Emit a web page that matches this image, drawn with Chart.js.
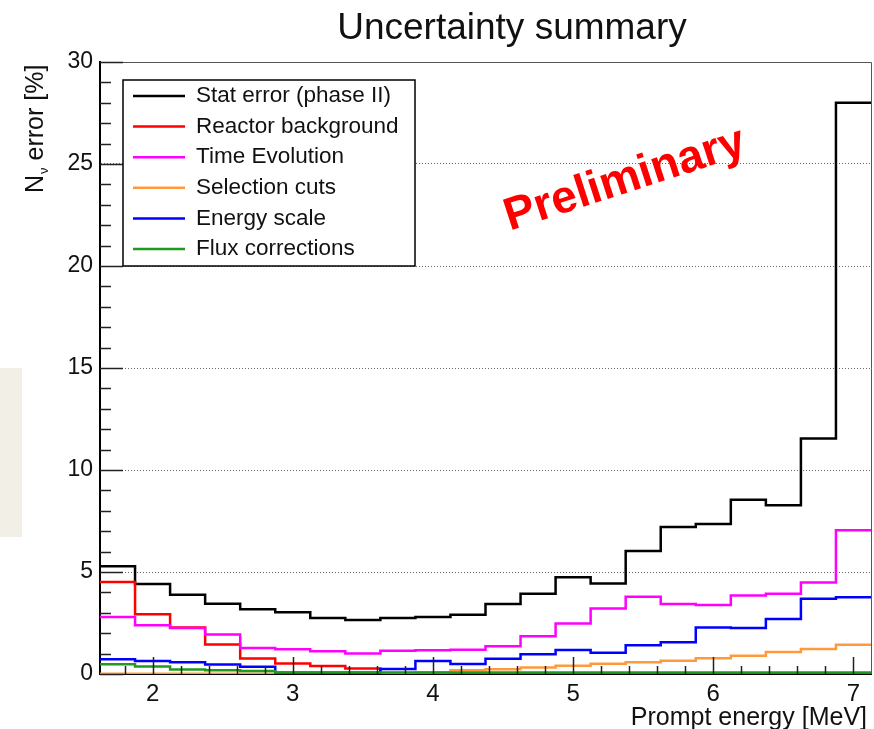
<!DOCTYPE html>
<html lang="en">
<head>
<meta charset="utf-8">
<title>Uncertainty summary</title>
<script src="https://cdn.jsdelivr.net/npm/chart.js"></script>
<style>
  body { margin: 0; background: #fff; }
  #wrap { position: relative; width: 874px; height: 729px; }
  #tab { position: absolute; left: 0; top: 368px; width: 22px; height: 169px; background: #f2efe6; }
  #myChart { position: absolute; left: 0; top: 0; }
</style>
</head>
<body>
<div id="wrap">
  <div id="tab"></div>
  <canvas id="myChart" width="874" height="729"></canvas>
</div>
<script>
    // prompt energy bins (MeV), lower edges + last upper edge
    const binLow = [1.625, 1.875, 2.125, 2.375, 2.625, 2.875, 3.125, 3.375, 3.625, 3.875, 4.125,
                    4.375, 4.625, 4.875, 5.125, 5.375, 5.625, 5.875, 6.125, 6.375, 6.625, 6.875];
    const binHigh = 7.125;

    // relative errors in %
    const statErr     = [5.28, 4.41, 3.88, 3.44, 3.18, 3.03, 2.74, 2.65, 2.74, 2.79, 2.90,
                         3.43, 3.93, 4.74, 4.44, 6.03, 7.20, 7.35, 8.54, 8.27, 11.54, 28.0];
    const reactorBg   = [4.51, 2.93, 2.28, 1.45, 0.76, 0.52, 0.39, 0.27, 0.03, 0.02, 0.02,
                         0.02, 0.02, 0.02, 0.02, 0.02, 0.02, 0.02, 0.02, 0.02, 0.02, 0.02];
    const timeEvo     = [2.80, 2.39, 2.26, 1.94, 1.28, 1.21, 1.11, 1.01, 1.14, 1.17, 1.19,
                         1.36, 1.85, 2.48, 3.21, 3.79, 3.43, 3.38, 3.85, 3.93, 4.49, 7.05];
    const selCuts     = [0.01, 0.01, 0.01, 0.01, 0.01, 0.01, 0.02, 0.03, 0.05, 0.08, 0.18,
                         0.23, 0.32, 0.41, 0.50, 0.57, 0.65, 0.77, 0.90, 1.08, 1.23, 1.43];
    const energyScale = [0.72, 0.64, 0.57, 0.47, 0.35, 0.06, 0.06, 0.06, 0.24, 0.64, 0.49,
                         0.75, 0.97, 1.18, 1.04, 1.41, 1.56, 2.28, 2.25, 2.69, 3.69, 3.76];
    const fluxCorr    = [0.48, 0.37, 0.22, 0.18, 0.15, 0.07, 0.07, 0.07, 0.07, 0.07, 0.07,
                         0.07, 0.07, 0.07, 0.07, 0.07, 0.07, 0.07, 0.07, 0.07, 0.07, 0.07];

    const seriesNames  = ['Stat error (phase II)', 'Reactor background', 'Time Evolution',
                          'Selection cuts', 'Energy scale', 'Flux corrections'];
    const seriesValues = [statErr, reactorBg, timeEvo, selCuts, energyScale, fluxCorr];
    const seriesColors = ['#000000', '#ff0000', '#ff00ff', '#ff9a3c', '#0000ff', '#1f9a1f'];

    const xTickLabels = [2, 3, 4, 5, 6, 7];
    const yTickStep = 5;

    const FONT = "'Liberation Sans', Arial, Helvetica, sans-serif";

    // histogram outline: one point per bin edge, stepped
    function histPoints(vals) {
        let pts = binLow.map((x, i) => ({ x: x, y: vals[i] }));
        pts.push({ x: binHigh, y: vals[vals.length - 1] });
        return pts;
    }

    let datasets = seriesNames.map((name, i) => ({
        label: name,
        data: histPoints(seriesValues[i]),
        borderColor: seriesColors[i],
        backgroundColor: seriesColors[i],
        borderWidth: 2.5,
        stepped: true,
        pointRadius: 0,
        fill: false,
        tension: 0,
        order: seriesNames.length - i
    }));

    // frame, inner ticks, legend box and texts
    const rootFrame = {
        id: 'rootFrame',
        afterDatasetsDraw(chart) {
            const { ctx, chartArea: a, scales: { x, y } } = chart;
            ctx.save();

            // top / right frame
            ctx.strokeStyle = '#555';
            ctx.lineWidth = 1;
            ctx.beginPath();
            ctx.moveTo(a.left, a.top + 0.5);
            ctx.lineTo(a.right + 0.5, a.top + 0.5);
            ctx.lineTo(a.right + 0.5, a.bottom);
            ctx.stroke();

            // ticks pointing inward
            ctx.strokeStyle = '#222';
            ctx.lineWidth = 1.5;
            ctx.beginPath();
            for (let v = 0; v <= 30; v++) {
                const py = Math.round(y.getPixelForValue(v)) + 0.5;
                const len = v % 5 === 0 ? 23 : 11;
                ctx.moveTo(a.left, py);
                ctx.lineTo(a.left + len, py);
            }
            for (let k = 9; k <= 35; k++) {
                const px = Math.round(x.getPixelForValue(k * 0.2)) + 0.5;
                const len = k % 5 === 0 ? 17 : 8;
                ctx.moveTo(px, a.bottom);
                ctx.lineTo(px, a.bottom - len);
            }
            ctx.stroke();

            // legend
            const lg = { x: 123, y: 80, w: 292, h: 186 };
            ctx.fillStyle = '#fff';
            ctx.fillRect(lg.x, lg.y, lg.w, lg.h);
            ctx.strokeStyle = '#000';
            ctx.lineWidth = 1.5;
            ctx.strokeRect(lg.x, lg.y, lg.w, lg.h);
            ctx.font = '22.5px ' + FONT;
            ctx.textAlign = 'left';
            ctx.textBaseline = 'middle';
            chart.data.datasets.forEach((ds, i) => {
                const cy = 96 + i * 30.6;
                ctx.strokeStyle = ds.borderColor;
                ctx.lineWidth = 2.5;
                ctx.beginPath();
                ctx.moveTo(133, cy);
                ctx.lineTo(185, cy);
                ctx.stroke();
                ctx.fillStyle = '#111';
                ctx.fillText(ds.label, 196, cy);
            });

            // Preliminary stamp
            ctx.save();
            ctx.translate(629, 192);
            ctx.rotate(-18 * Math.PI / 180);
            ctx.font = 'bold 46px ' + FONT;
            ctx.fillStyle = '#ff0000';
            ctx.textAlign = 'center';
            ctx.textBaseline = 'alphabetic';
            ctx.fillText('Preliminary', 0, 0);
            ctx.restore();

            // title
            ctx.fillStyle = '#111';
            ctx.font = '37px ' + FONT;
            ctx.textAlign = 'center';
            ctx.textBaseline = 'alphabetic';
            ctx.fillText('Uncertainty summary', 512, 39);

            // x axis title
            ctx.font = '25px ' + FONT;
            ctx.textAlign = 'right';
            ctx.fillText('Prompt energy [MeV]', 867, 725);

            // y axis title with subscript nu
            ctx.save();
            ctx.translate(43, 193);
            ctx.rotate(-Math.PI / 2);
            ctx.textAlign = 'left';
            ctx.font = '25px ' + FONT;
            ctx.fillText('N', 0, 0);
            let w = ctx.measureText('N').width;
            ctx.font = '13px ' + FONT;
            ctx.fillText('\u03bd', w + 1, 5);
            w += 1 + ctx.measureText('\u03bd').width;
            ctx.font = '25px ' + FONT;
            ctx.fillText(' error [%]', w, 0);
            ctx.restore();

            ctx.restore();
        }
    };

    let dataobj = {
        type: 'line',
        data: { datasets: datasets },
        options: {
            responsive: false,
            animation: false,
            layout: { padding: { top: 62, right: 3, left: 0, bottom: 0 } },
            plugins: {
                legend: { display: false },
                tooltip: { enabled: false },
                title: { display: false }
            },
            scales: {
                x: {
                    type: 'linear',
                    min: 1.625,
                    max: binHigh,
                    afterFit: (s) => { s.height = 55; },
                    afterBuildTicks: (s) => { s.ticks = xTickLabels.map(v => ({ value: v })); },
                    grid: { display: false, drawTicks: false },
                    border: { color: '#000', width: 2 },
                    ticks: {
                        color: '#111',
                        font: { family: FONT, size: 24 },
                        padding: 6,
                        maxRotation: 0,
                        autoSkip: false,
                        callback: (v) => String(v)
                    }
                },
                y: {
                    min: 0,
                    max: 30,
                    afterFit: (s) => { s.width = 100; },
                    grid: { color: '#666', lineWidth: 1, drawTicks: false },
                    border: { color: '#000', width: 2, dash: [1, 2] },
                    ticks: {
                        stepSize: yTickStep,
                        color: '#111',
                        font: { family: FONT, size: 23 },
                        padding: 7
                    }
                }
            }
        },
        plugins: [rootFrame]
    };

    var ctx = document.getElementById('myChart').getContext('2d');
    window.myLine = new Chart(ctx, dataobj);
</script>
</body>
</html>
